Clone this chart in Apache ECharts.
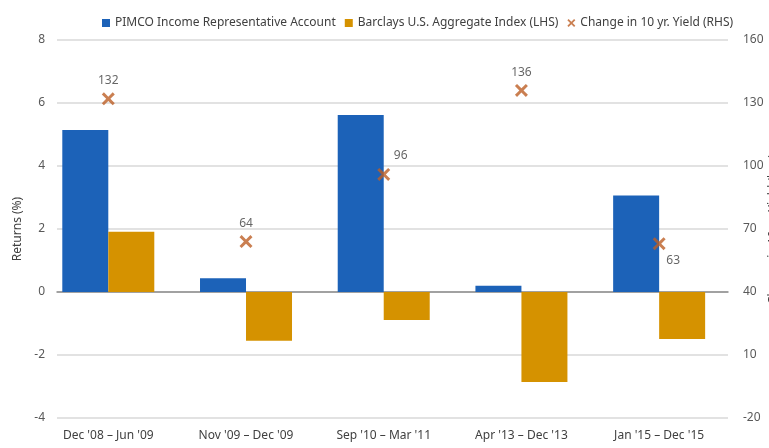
<!DOCTYPE html>
<html>
<head>
<meta charset="utf-8">
<script src="https://cdn.jsdelivr.net/npm/echarts@6/dist/echarts.min.js"></script>
<style>
  html, body { margin: 0; padding: 0; background: #fff; }
  #chart { width: 769px; height: 448px; }
</style>
</head>
<body>
<div id="chart"></div>
<script>
  var categories = ["Dec '08 \u2013 Jun '09", "Nov '09 \u2013 Dec '09", "Sep '10 \u2013 Mar '11", "Apr '13 \u2013 Dec '13", "Jan '15 \u2013 Dec '15"];
  var pimco = [5.14, 0.44, 5.62, 0.2, 3.06];
  var barclays = [1.91, -1.55, -0.89, -2.86, -1.49];
  var yieldChange = [132, 64, 96, 136, 63];
  var leftTicks = { min: -4, max: 8, interval: 2 };
  var rightTicks = { min: -20, max: 160, interval: 30 };

  // label placement for each cross, like the excel original
  var labelOffsets = [[0, -18], [0, -18], [17, -19], [0, -18], [14, 17]];

  var crossPath = 'path://M0,1.6 L1.6,0 L5,3.4 L8.4,0 L10,1.6 L6.6,5 L10,8.4 L8.4,10 L5,6.6 L1.6,10 L0,8.4 L3.4,5 Z';
  var font = 'Noto Sans';

  var chart = echarts.init(document.getElementById('chart'));
  var option = {
    animation: false,
    backgroundColor: '#ffffff',
    textStyle: { fontFamily: font },
    legend: {
      left: 97,
      top: 12,
      itemWidth: 8,
      itemHeight: 8,
      itemGap: 9,
      textStyle: { fontSize: 12, color: '#404040', fontFamily: font },
      data: [
        { name: 'PIMCO Income Representative Account', icon: 'rect' },
        { name: 'Barclays U.S. Aggregate Index (LHS)', icon: 'rect' },
        { name: 'Change in 10 yr. Yield (RHS)', icon: crossPath }
      ]
    },
    grid: { left: 57, right: 41, top: 40, bottom: 30, outerBoundsMode: 'none' },
    xAxis: {
      type: 'value',
      min: -0.3725,
      max: 4.5,
      splitLine: { show: false },
      axisTick: { show: false },
      axisLine: { onZero: true, lineStyle: { color: '#8c8c8c', width: 1.5 } },
      axisLabel: {
        customValues: [0, 1, 2, 3, 4],
        formatter: function (v) { return categories[v]; },
        margin: 12,
        fontSize: 12,
        color: '#404040'
      }
    },
    yAxis: [{
      type: 'value',
      min: leftTicks.min,
      max: leftTicks.max,
      interval: leftTicks.interval,
      name: 'Returns (%)',
      nameLocation: 'middle',
      nameGap: 32,
      nameTextStyle: { fontSize: 12, color: '#404040' },
      axisLine: { show: false },
      axisTick: { show: false },
      axisLabel: { margin: 12, fontSize: 12, color: '#595959' },
      splitLine: { lineStyle: { color: '#d9d9d9', width: 1.5 } }
    }, {
      type: 'value',
      min: rightTicks.min,
      max: rightTicks.max,
      interval: rightTicks.interval,
      name: 'Change in 10 yr. Yield (bps)',
      nameLocation: 'middle',
      nameGap: 40,
      nameMoveOverlap: false,
      nameTextStyle: { fontSize: 12, color: '#404040' },
      axisLine: { show: false },
      axisTick: { show: false },
      axisLabel: { margin: 15, fontSize: 12, color: '#595959' },
      splitLine: { show: false }
    }],
    series: [{
      name: 'PIMCO Income Representative Account',
      type: 'bar',
      barWidth: 46,
      barGap: '0%',
      itemStyle: { color: '#1c62b8' },
      data: pimco.map(function (v, i) { return [i, v]; })
    }, {
      name: 'Barclays U.S. Aggregate Index (LHS)',
      type: 'bar',
      barWidth: 46,
      barGap: '0%',
      itemStyle: { color: '#d59200' },
      data: barclays.map(function (v, i) { return [i, v]; })
    }, {
      name: 'Change in 10 yr. Yield (RHS)',
      type: 'scatter',
      yAxisIndex: 1,
      symbol: crossPath,
      symbolSize: 13,
      itemStyle: { color: '#bd5f26' },
      z: 5,
      label: {
        show: true,
        position: 'inside',
        fontSize: 12,
        color: '#404040'
      },
      data: yieldChange.map(function (v, i) {
        return { value: [i, v], label: { offset: labelOffsets[i], formatter: String(v) } };
      })
    }]
  };
  chart.setOption(option);
</script>
</body>
</html>
